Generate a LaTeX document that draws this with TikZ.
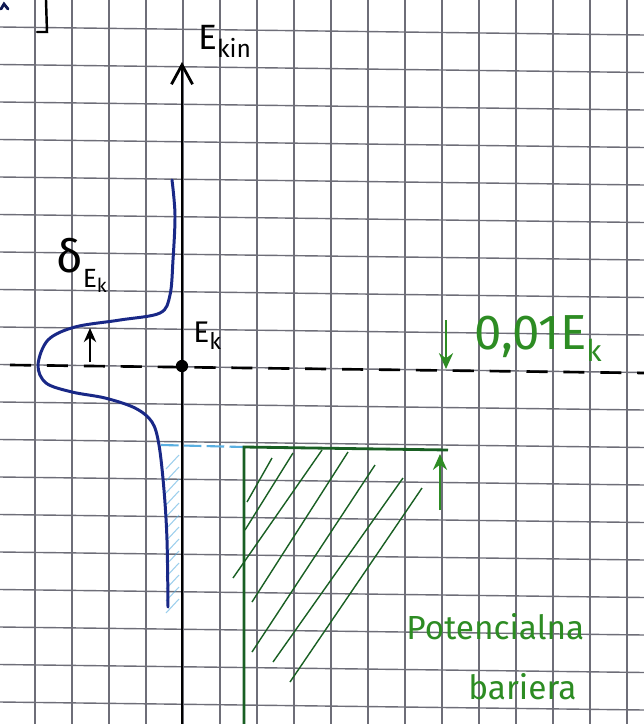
\documentclass[tikz,border=0pt]{standalone}
\usepackage{fontspec}
\setmainfont{Fira Sans}
\usetikzlibrary{arrows.meta}
\definecolor{gridc}{RGB}{110,110,120}
\definecolor{inkblue}{RGB}{25,40,135}
\definecolor{lightblue}{RGB}{90,175,225}
\definecolor{darkgreen}{RGB}{25,95,35}
\definecolor{labgreen}{RGB}{45,140,35}
\tikzset{
  gridline/.style={draw=gridc, line width=0.8pt},
  axisline/.style={draw=black, line width=1.6pt},
  energyline/.style={draw=black, line width=1.5pt, dash pattern=on 12pt off 9pt},
  curveline/.style={draw=inkblue, line width=1.7pt, line join=round, line cap=round},
  barrierline/.style={draw=darkgreen, line width=1.6pt},
  hatchline/.style={draw=darkgreen, line width=0.8pt},
  bluehatch/.style={draw=lightblue, line width=0.6pt, opacity=0.6},
  lbl/.style={inner sep=0pt, text=black},
  glbl/.style={inner sep=0pt, text=labgreen},
}
\begin{document}
\begin{tikzpicture}[x=0.02cm, y=-0.02cm]
\useasboundingbox (0,0) rectangle (644,724);
\fill[white] (0,0) rectangle (644,724);
% graph paper
\foreach \gx in {35,72,109,146,183,220,257,294,331,368,405,442,479,516,553,590,627}
  \draw[gridline] (\gx,0) -- (\gx,724);
\foreach \gy in {27,64.5,102,139.5,177,214.5,252,289.5,327,364.5,402,439.5,477,514.5,552,589.5,627,664.5,702}
  \draw[gridline] (0,\gy) -- (644,\gy+8);
% fragments at top left
\draw[black, line width=1.4pt, line cap=round] (37,32) -- (47,32) -- (46,0);
\draw[inkblue!60!black, line width=1.6pt, line cap=round] (1,9) -- (4,4) -- (8,9);
% named points
\coordinate (axbot) at (182,724);
\coordinate (axtop) at (182,62);
\coordinate (O) at (182,366);
\coordinate (dl) at (10,365);
\coordinate (dr) at (644,373);
\coordinate (bTL) at (244,447);
\coordinate (bTR) at (448,450);
\coordinate (bBL) at (244,724);
\coordinate (cB) at (161,445);
% light blue hatching under the curve
\foreach \hy in {455,467,...,600} \draw[bluehatch] (166,\hy+14) -- (179,\hy);
\draw[draw=lightblue, line width=1.2pt, dash pattern=on 10pt off 3pt] (cB) -- (bTL);
% energy axis
\draw[axisline, -{Straight Barb[length=11pt,width=12pt]}] (axbot) -- (axtop);
\node[lbl, anchor=south west, font=\fontsize{20}{20}\selectfont] (ekin) at (198,58) {E\raisebox{-0.45ex}{\fontsize{14}{14}\selectfont kin}};
% energy level
\draw[energyline] (dl) -- (dr);
\fill[black] (O) circle (3.5pt);
\node[lbl, anchor=south west, font=\fontsize{17}{17}\selectfont] (ek) at (193,350) {E\raisebox{-0.45ex}{\fontsize{13}{13}\selectfont k}};
% spectrum curve
\draw[curveline] plot[smooth, tension=0.55] coordinates {(172,180) (175,215) (173,260) (170,295) (160,313) (120,320) (75,327) (48,340) (38,365) (46,383) (72,392) (105,398) (135,408) (152,422) (159,445) (164,490) (167,540) (168,607)};
% width arrow
\coordinate (wA) at (90,362);
\coordinate (wB) at (90,328);
\draw[black, line width=1.4pt, -{Stealth[length=8pt,width=7pt]}] (wA) -- (wB);
\node[lbl, anchor=south west, font=\fontsize{26}{26}\selectfont] (de) at (56,293) {δ\raisebox{-0.6ex}{\fontsize{15}{15}\selectfont E\raisebox{-0.4ex}{\fontsize{11}{11}\selectfont k}}};
% potential barrier
\draw[barrierline] (bBL) -- (bTL) -- (bTR);
\foreach \a/\b/\c/\d in {247/502/272/458, 245/530/293/453, 233/578/322/450, 252/602/348/452, 252/652/375/465, 273/662/403/478, 290/682/422/488}
  \draw[hatchline] (\a,\b) -- (\c,\d);
% gap arrows
\coordinate (gA) at (446,320);
\coordinate (gB) at (446,369);
\coordinate (gC) at (440,510);
\coordinate (gD) at (440,454);
\draw[draw=labgreen, line width=1.6pt, -{Stealth[length=9pt,width=8pt]}] (gA) -- (gB);
\draw[draw=labgreen, line width=1.6pt, -{Stealth[length=9pt,width=8pt]}] (gC) -- (gD);
\node[glbl, anchor=south west, font=\fontsize{28}{28}\selectfont] (gap) at (474,362) {0,01E\raisebox{-0.45ex}{\fontsize{17}{17}\selectfont k}};
\node[glbl, anchor=south west, font=\fontsize{19}{19}\selectfont] (pot) at (406,640) {Potencialna};
\node[glbl, anchor=south west, font=\fontsize{19}{19}\selectfont] (bar) at (468,700) {bariera};
\end{tikzpicture}
\end{document}
